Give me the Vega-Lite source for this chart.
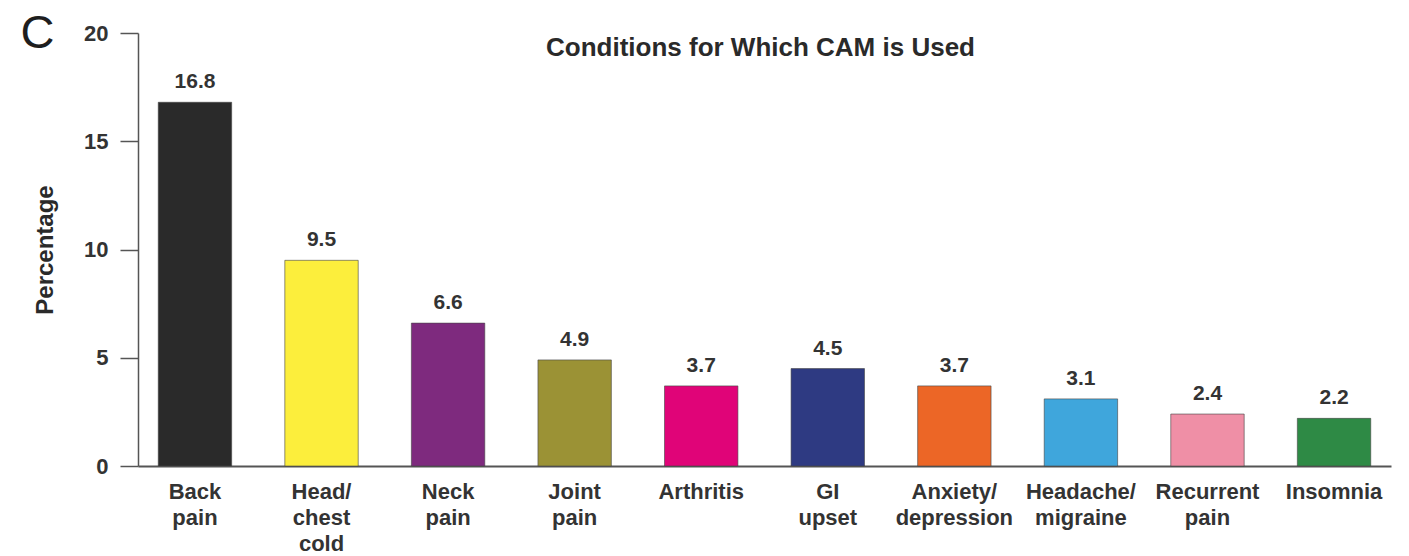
{
  "$schema": "https://vega.github.io/schema/vega-lite/v6.json",
  "background": "white",
  "autosize": "none",
  "padding": {"left": 138, "top": 33, "right": 18, "bottom": 90},
  "width": 1253,
  "height": 433,
  "title": {
    "text": "Conditions for Which CAM is Used",
    "anchor": "middle",
    "frame": "group",
    "font": "Liberation Sans",
    "fontSize": 26,
    "fontWeight": "bold",
    "color": "#2a2a2a",
    "baseline": "alphabetic",
    "offset": -40,
    "dx": -4,
    "dy": 33
  },
  "data": {
    "values": [
      {"condition": "Back pain", "percent": 16.8, "color": "#2a2a2a"},
      {"condition": "Head/chest cold", "percent": 9.5, "color": "#fcee3c"},
      {"condition": "Neck pain", "percent": 6.6, "color": "#7e2a7e"},
      {"condition": "Joint pain", "percent": 4.9, "color": "#9b9235"},
      {"condition": "Arthritis", "percent": 3.7, "color": "#e00478"},
      {"condition": "GI upset", "percent": 4.5, "color": "#2e3a82"},
      {"condition": "Anxiety/depression", "percent": 3.7, "color": "#ec6626"},
      {"condition": "Headache/migraine", "percent": 3.1, "color": "#3fa6dc"},
      {"condition": "Recurrent pain", "percent": 2.4, "color": "#ef8fa6"},
      {"condition": "Insomnia", "percent": 2.2, "color": "#2e8a45"}
    ]
  },
  "encoding": {
    "x": {
      "field": "condition",
      "type": "nominal",
      "sort": null,
      "scale": {"paddingInner": 0.42, "paddingOuter": 0.16},
      "axis": {
        "title": null,
        "ticks": false,
        "labelAngle": 0,
        "labelPadding": 15,
        "labelFont": "Liberation Sans",
        "labelFontSize": 22,
        "labelFontWeight": "bold",
        "labelColor": "#333333",
        "labelLineHeight": 26,
        "labelExpr": "split(replace(datum.label, '/', '/ '), ' ')",
        "domainColor": "#555555",
        "domainWidth": 2
      }
    }
  },
  "layer": [
    {
      "mark": {"type": "bar", "stroke": "#444444", "strokeWidth": 1, "strokeOpacity": 0.6},
      "encoding": {
        "y": {
          "field": "percent",
          "type": "quantitative",
          "scale": {"domain": [0, 20], "nice": false},
          "axis": {
            "title": "Percentage",
            "values": [0, 5, 10, 15, 20],
            "grid": false,
            "tickSize": 18,
            "tickColor": "#555555",
            "tickWidth": 1.5,
            "domainColor": "#555555",
            "domainWidth": 1.5,
            "labelPadding": 12,
            "labelFont": "Liberation Sans",
            "labelFontSize": 22,
            "labelFontWeight": "bold",
            "labelColor": "#333333",
            "titleFont": "Liberation Sans",
            "titleFontSize": 24,
            "titleFontWeight": "bold",
            "titleColor": "#2a2a2a",
            "titlePadding": 26
          }
        },
        "color": {"field": "color", "type": "nominal", "scale": null}
      }
    },
    {
      "mark": {
        "type": "text",
        "baseline": "alphabetic",
        "dy": -14,
        "font": "Liberation Sans",
        "fontSize": 21,
        "fontWeight": "bold",
        "color": "#333333"
      },
      "encoding": {
        "y": {
          "field": "percent",
          "type": "quantitative",
          "axis": {
            "orient": "left",
            "title": "C",
            "domain": false,
            "ticks": false,
            "labels": false,
            "grid": false,
            "titleAngle": 0,
            "titleAlign": "left",
            "titleBaseline": "alphabetic",
            "titleX": -118,
            "titleY": 14,
            "titleFont": "Liberation Sans",
            "titleFontSize": 47,
            "titleFontWeight": "normal",
            "titleColor": "#1e1e1e"
          }
        },
        "text": {"field": "percent", "type": "quantitative", "format": ".1f"}
      }
    }
  ],
  "resolve": {"axis": {"y": "independent"}},
  "config": {"view": {"stroke": null}}
}
